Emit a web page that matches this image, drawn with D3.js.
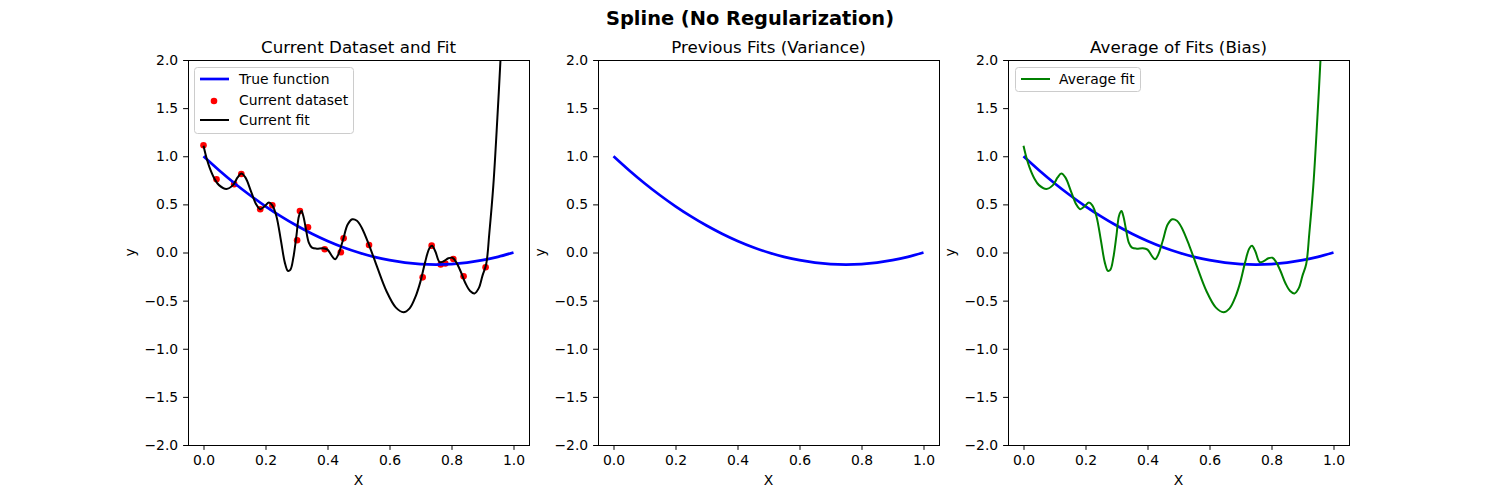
<!DOCTYPE html>
<html><head><meta charset="utf-8">
<script src="https://cdn.jsdelivr.net/npm/d3@7"></script>
<style>body{margin:0;background:#fff;} text{font-family:"DejaVu Sans",sans-serif;}</style>
</head><body>
<svg id="c" width="1500" height="500"></svg>
<script>
const trueX = [0,0.05,0.1,0.15,0.2,0.25,0.3,0.35,0.4,0.45,0.5,0.55,0.6,0.65,0.7,0.75,0.8,0.85,0.9,0.95,1.0];
const trueY = [1.0,0.855,0.72,0.595,0.48,0.375,0.28,0.195,0.12,0.055,0,-0.045,-0.08,-0.105,-0.12,-0.125,-0.12,-0.105,-0.08,-0.045,0];
const dataX = [0.0,0.042,0.099,0.122,0.183,0.222,0.302,0.311,0.337,0.391,0.443,0.452,0.534,0.707,0.736,0.765,0.78,0.806,0.839,0.91];
const dataY = [1.114,0.76,0.71,0.816,0.449,0.49,0.127,0.431,0.262,0.033,0.002,0.147,0.078,-0.258,0.071,-0.125,-0.115,-0.068,-0.247,-0.154];
const fitX = [0,0.01,0.02,0.035,0.05,0.074,0.095,0.11,0.122,0.135,0.155,0.17,0.183,0.197,0.211,0.222,0.235,0.25,0.262,0.272,0.28,0.29,0.3,0.308,0.316,0.322,0.33,0.34,0.35,0.365,0.385,0.4,0.415,0.425,0.435,0.45,0.465,0.48,0.495,0.51,0.535,0.56,0.59,0.62,0.645,0.665,0.685,0.7,0.715,0.728,0.737,0.748,0.762,0.775,0.79,0.803,0.815,0.83,0.845,0.86,0.874,0.888,0.9,0.912,0.922,0.935,0.948,0.958,0.97,0.985,1.0];
const fitY = [1.11,0.98,0.88,0.77,0.70,0.66,0.70,0.78,0.82,0.78,0.62,0.50,0.45,0.48,0.52,0.49,0.38,0.12,-0.10,-0.19,-0.18,-0.05,0.18,0.38,0.43,0.38,0.25,0.10,0.05,0.04,0.045,0.03,-0.04,-0.07,-0.02,0.13,0.29,0.345,0.33,0.26,0.07,-0.15,-0.40,-0.57,-0.62,-0.58,-0.45,-0.30,-0.10,0.04,0.07,0.01,-0.10,-0.09,-0.06,-0.055,-0.10,-0.20,-0.32,-0.40,-0.425,-0.37,-0.24,-0.12,0.20,0.70,1.40,2.00,2.80,3.60,4.50];
const avgFitY = fitY.slice();
const xTicks = [0,0.2,0.4,0.6,0.8,1.0];
const yTicks = [-2,-1.5,-1,-0.5,0,0.5,1,1.5,2];
const titles = ["Current Dataset and Fit","Previous Fits (Variance)","Average of Fits (Bias)"];

const svg = d3.select("#c");
const W = 341, H = 385, T0 = 60;
const lefts = [188, 598, 1008];
const fmt = v => d3.format(".1f")(v).replace("-", "\u2212");
const FS = "13.9px";

svg.append("text").attr("x",750).attr("y",25).attr("text-anchor","middle")
  .attr("font-size","19.4px").attr("font-weight","bold").text("Spline (No Regularization)");

const tr = trueX.map((x,i)=>[x,trueY[i]]);
const fit = fitX.map((x,i)=>[x,fitY[i]]);
const avg = fitX.map((x,i)=>[x,avgFitY[i]]);

lefts.forEach((L,pi)=>{
  const x = d3.scaleLinear().domain([-0.05,1.05]).range([L, L+W]);
  const y = d3.scaleLinear().domain([-2,2]).range([T0+H, T0]);
  const g = svg.append("g");
  const cid = "clip"+pi;
  svg.append("clipPath").attr("id",cid).append("rect").attr("x",L).attr("y",T0).attr("width",W).attr("height",H);
  const line = d3.line().x(d=>x(d[0])).y(d=>y(d[1])).curve(d3.curveCatmullRom.alpha(0.5));
  const pg = g.append("g").attr("clip-path",`url(#${cid})`);
  if(pi===0){
    pg.selectAll("circle").data(dataX.map((d,i)=>[d,dataY[i]])).enter().append("circle")
      .attr("cx",d=>x(d[0])).attr("cy",d=>y(d[1])).attr("r",3.3).attr("fill","#ff0000");
  }
  pg.append("path").datum(tr).attr("d",line).attr("fill","none").attr("stroke","#0000ff").attr("stroke-width",2.7);
  if(pi===0) pg.append("path").datum(fit).attr("d",line).attr("fill","none").attr("stroke","#000").attr("stroke-width",2);
  if(pi===2) pg.append("path").datum(avg).attr("d",line).attr("fill","none").attr("stroke","#008000").attr("stroke-width",2);

  const xa = g.append("g").attr("transform",`translate(0,${T0+H})`)
    .call(d3.axisBottom(x).tickValues(xTicks).tickFormat(fmt).tickSize(4.9).tickPadding(4.9));
  const ya = g.append("g").attr("transform",`translate(${L},0)`)
    .call(d3.axisLeft(y).tickValues(yTicks).tickFormat(fmt).tickSize(4.9).tickPadding(4.9));
  [xa,ya].forEach(a=>{a.select(".domain").remove(); a.selectAll("text").attr("font-size",FS).attr("fill","#000").attr("font-family","DejaVu Sans"); a.selectAll("line").attr("stroke","#000");});
  g.append("rect").attr("x",L+0.5).attr("y",T0+0.5).attr("width",W).attr("height",H).attr("fill","none").attr("stroke","#000").attr("stroke-width",1);
  g.append("text").attr("x",L+W/2).attr("y",53).attr("text-anchor","middle").attr("font-size","16.7px").text(titles[pi]);
  g.append("text").attr("x",L+W/2).attr("y",485).attr("text-anchor","middle").attr("font-size",FS).text("X");
  g.append("text").attr("transform",`translate(${L-53},${T0+H/2}) rotate(-90)`).attr("text-anchor","middle").attr("font-size",FS).text("y");

  if(pi===0){
    const lg = g.append("g");
    lg.append("rect").attr("x",194.5).attr("y",67.5).attr("width",159).attr("height",66).attr("rx",3)
      .attr("fill","#fff").attr("fill-opacity",0.8).attr("stroke","#ccc");
    const rows = [79,100,120];
    lg.append("line").attr("x1",200).attr("x2",229).attr("y1",rows[0]).attr("y2",rows[0]).attr("stroke","#0000ff").attr("stroke-width",2.7);
    lg.append("circle").attr("cx",214).attr("cy",rows[1]+1).attr("r",3.3).attr("fill","#ff0000");
    lg.append("line").attr("x1",200).attr("x2",229).attr("y1",rows[2]).attr("y2",rows[2]).attr("stroke","#000").attr("stroke-width",2);
    ["True function","Current dataset","Current fit"].forEach((t,i)=>{
      lg.append("text").attr("x",239).attr("y",rows[i]+5).attr("font-size",FS).text(t);
    });
  }
  if(pi===2){
    const lg = g.append("g");
    lg.append("rect").attr("x",1015.5).attr("y",67.5).attr("width",125).attr("height",24).attr("rx",3)
      .attr("fill","#fff").attr("fill-opacity",0.8).attr("stroke","#ccc");
    lg.append("line").attr("x1",1021).attr("x2",1050).attr("y1",79).attr("y2",79).attr("stroke","#008000").attr("stroke-width",2);
    lg.append("text").attr("x",1059).attr("y",84).attr("font-size",FS).text("Average fit");
  }
});
</script>
</body></html>
